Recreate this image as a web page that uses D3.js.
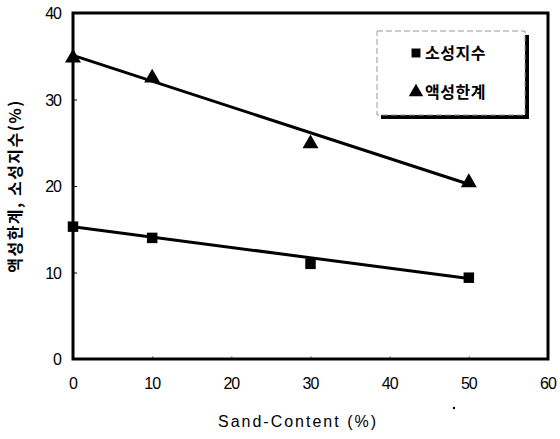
<!DOCTYPE html>
<html>
<head>
<meta charset="utf-8">
<script src="https://cdn.jsdelivr.net/npm/d3@7"></script>
<style>
  body { margin: 0; background: #fff; }
  text { font-family: "Liberation Sans", Arial, sans-serif; fill: #000; }
  .kr { font-family: "Noto Sans CJK KR", sans-serif; font-weight: bold; }
</style>
</head>
<body>
<svg id="chart" width="560" height="439"></svg>
<script>
var sandContent = [0, 10, 30, 50];
var plasticIndex = [15.3, 14.0, 11.0, 9.4];   // 소성지수
var liquidLimit = [34.8, 32.5, 24.9, 20.4];   // 액성한계
var fitX = [0, 50];
var plasticFit = [15.3, 9.3];
var liquidFit = [35.1, 20.2];
var xTicks = [0, 10, 20, 30, 40, 50, 60];
var yTicks = [0, 10, 20, 30, 40];
var legendNames = ['소성지수', '액성한계'];

var svg = d3.select('#chart');
var plotLeft = 73, plotRight = 548, plotTop = 13, plotBottom = 359;

var x = d3.scaleLinear().domain([0, 60]).range([plotLeft, plotRight]);
var y = d3.scaleLinear().domain([0, 40]).range([plotBottom, plotTop]);

// inner ticks
svg.append('g')
   .attr('transform', 'translate(' + plotLeft + ',0)')
   .call(d3.axisRight(y).tickValues(yTicks).tickSize(4).tickFormat(''))
   .call(function(g) { g.select('.domain').remove(); });
svg.append('g')
   .attr('transform', 'translate(0,' + plotBottom + ')')
   .call(d3.axisTop(x).tickValues(xTicks).tickSize(3).tickFormat(''))
   .call(function(g) { g.select('.domain').remove(); g.selectAll('line').attr('stroke', '#888'); });

// tick labels
svg.selectAll('.ylab').data(yTicks).enter().append('text')
   .attr('class', 'ylab')
   .attr('x', 61).attr('y', function(d) { return y(d) + 6; })
   .attr('text-anchor', 'end').attr('font-size', 16)
   .attr('letter-spacing', -1)
   .text(function(d) { return d; });
svg.selectAll('.xlab').data(xTicks).enter().append('text')
   .attr('class', 'xlab')
   .attr('x', function(d) { return x(d); }).attr('y', 389)
   .attr('text-anchor', 'middle').attr('font-size', 16)
   .attr('letter-spacing', -1)
   .text(function(d) { return d; });

// frame
svg.append('rect')
   .attr('x', plotLeft).attr('y', plotTop)
   .attr('width', plotRight - plotLeft).attr('height', plotBottom - plotTop)
   .attr('fill', 'none').attr('stroke', '#000').attr('stroke-width', 3);

// axis titles
svg.append('text')
   .attr('x', 298).attr('y', 427)
   .attr('text-anchor', 'middle').attr('font-size', 16)
   .attr('letter-spacing', 2)
   .text('Sand-Content (%)');
svg.append('text')
   .attr('class', 'kr')
   .attr('transform', 'translate(21,186) rotate(-90)')
   .attr('text-anchor', 'middle').attr('font-size', 16)
   .attr('letter-spacing', 1.5)
   .text('액성한계, 소성지수(%)');

// fit lines
var line = d3.line().x(function(d) { return x(d[0]); }).y(function(d) { return y(d[1]); });
svg.append('path').datum(d3.zip(fitX, liquidFit))
   .attr('d', line).attr('fill', 'none').attr('stroke', '#000').attr('stroke-width', 3);
svg.append('path').datum(d3.zip(fitX, plasticFit))
   .attr('d', line).attr('fill', 'none').attr('stroke', '#000').attr('stroke-width', 3);

// markers
var sq = d3.symbol().type(d3.symbolSquare).size(110);
var tri = d3.symbol().type(d3.symbolTriangle).size(110);
svg.selectAll('.sq').data(d3.zip(sandContent, plasticIndex)).enter().append('path')
   .attr('class', 'sq').attr('d', sq)
   .attr('transform', function(d) { return 'translate(' + x(d[0]) + ',' + y(d[1]) + ')'; });
svg.selectAll('.tri').data(d3.zip(sandContent, liquidLimit)).enter().append('path')
   .attr('class', 'tri').attr('d', tri)
   .attr('transform', function(d) { return 'translate(' + x(d[0]) + ',' + y(d[1]) + ')'; });

// legend
var lg = svg.append('g');
lg.append('rect').attr('x', 381).attr('y', 35).attr('width', 148).attr('height', 84).attr('fill', '#000');
lg.append('rect').attr('x', 377).attr('y', 31).attr('width', 148).attr('height', 84)
  .attr('fill', '#fff').attr('stroke', '#999').attr('stroke-width', 1)
  .attr('stroke-dasharray', '6 3');
lg.append('path').attr('d', d3.symbol().type(d3.symbolSquare).size(80))
  .attr('transform', 'translate(416,53)');
lg.append('path').attr('d', d3.symbol().type(d3.symbolTriangle).size(90))
  .attr('transform', 'translate(416,92)');
lg.selectAll('.lgtext').data(legendNames).enter().append('text')
  .attr('class', 'kr')
  .attr('x', 425).attr('y', function(d, i) { return 59 + i * 39; })
  .attr('font-size', 16).attr('letter-spacing', 0.5)
  .text(function(d) { return d; });

// small speck below the axis
svg.append('circle').attr('cx', 454).attr('cy', 408).attr('r', 1.2).attr('fill', '#000');
</script>
</body>
</html>
